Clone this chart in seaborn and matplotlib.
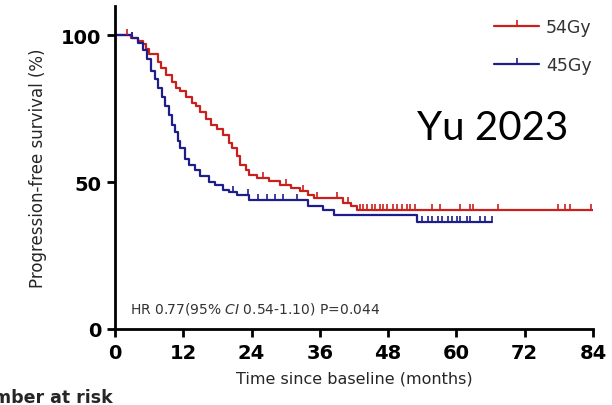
import numpy as np
import pandas as pd
import matplotlib
matplotlib.use("Agg")
import matplotlib.pyplot as plt
from matplotlib.lines import Line2D
import seaborn as sns

# Kaplan-Meier steps (months, % progression-free)
t_54 = [0, 2.8, 4.0, 5.0, 5.5, 6.0, 7.5, 8.0, 9.0, 10.0, 10.8, 11.5, 12.5, 13.5, 14.3,
        15.0, 16.0, 16.8, 18.0, 19.0, 20.0, 20.5, 21.5, 22.0, 23.0, 23.5, 25.0, 27.0,
        29.0, 31.0, 32.5, 34.0, 35.0, 40.0, 41.5, 42.5, 84.0]
s_54 = [100, 99, 98, 97, 95.5, 93.5, 91, 89, 86.5, 84, 82, 81, 79, 77, 76,
        74, 71.5, 69.5, 68, 66, 63.5, 61.6, 59, 56, 54, 52.4, 51.4, 50.3,
        49, 48, 47, 45.5, 44.5, 43, 42, 40.4, 40.4]
cens_54 = [2.1, 3.0, 26.0, 30.0, 33.0, 35.5, 39.0, 41.0, 43.1, 43.6, 44.3, 45.2, 45.7,
           46.6, 47.1, 47.8, 48.9, 49.6, 50.4, 51.3, 51.9, 52.7, 55.7, 57.1, 60.6,
           62.3, 62.9, 67.3, 77.9, 79.1, 80.0, 83.6]

t_45 = [0, 3.0, 4.0, 5.0, 5.7, 6.3, 7.0, 7.5, 8.3, 8.8, 9.5, 10.0, 10.5, 11.0, 11.5,
        12.3, 13.0, 14.0, 15.0, 16.5, 17.5, 19.0, 20.0, 21.5, 23.5, 34.0, 36.5, 38.5,
        53.0, 66.3]
s_45 = [100, 99, 97.5, 95, 92, 88, 85, 82, 79, 76, 73, 69.5, 67, 64, 61.6,
        58, 56, 54, 52, 50, 49, 47.5, 46.5, 45.5, 43.8, 42, 40.4, 38.7,
        36.3, 36.3]
cens_45 = [3.0, 20.7, 23.4, 25.1, 26.7, 28.1, 29.5, 32.0, 54.0, 55.0, 55.7, 56.8,
           57.5, 58.5, 59.3, 60.1, 60.6, 61.9, 62.4, 64.1, 65.0, 66.2]

groups = ["54Gy", "45Gy"]
colors = {"54Gy": "#c91f1d", "45Gy": "#1d1d8c"}

x_ticks = [0, 12, 24, 36, 48, 60, 72, 84]
y_ticks = [0, 50, 100]

df = pd.concat([
    pd.DataFrame({"time": t_54, "surv": s_54, "arm": "54Gy"}),
    pd.DataFrame({"time": t_45, "surv": s_45, "arm": "45Gy"}),
])


def surv_at(times, survs, when):
    idx = np.searchsorted(times, when, side="right") - 1
    return np.asarray(survs)[idx]


sns.set_style("ticks")
plt.rcParams["font.family"] = ["DejaVu Sans"]

fig = plt.figure(figsize=(6.12, 4.06), dpi=100)
ax = fig.add_axes([115 / 612, 1 - 330 / 406, 478 / 612, 323 / 406])

sns.lineplot(data=df, x="time", y="surv", hue="arm", palette=colors,
             drawstyle="steps-post", estimator=None, linewidth=1.6,
             legend=False, ax=ax)

# censored observations as upward ticks
for arm, tt, ss, cc in [("54Gy", t_54, s_54, cens_54), ("45Gy", t_45, s_45, cens_45)]:
    ax.plot(cc, surv_at(tt, ss, cc), linestyle="none", marker=2,
            markersize=4, markeredgewidth=1.2, color=colors[arm])

ax.set_xlim(0, 84)
ax.set_ylim(0, 110)
ax.set_xticks(x_ticks)
ax.set_yticks(y_ticks)
ax.tick_params(axis="both", direction="out", length=6, width=2, labelsize=14,
               colors="black", pad=4)
for lab in ax.get_xticklabels() + ax.get_yticklabels():
    lab.set_fontweight("semibold")
sns.despine(ax=ax)
for sp in ["left", "bottom"]:
    ax.spines[sp].set_linewidth(2)
    ax.spines[sp].set_color("black")

ax.set_xlabel("Time since baseline (months)", fontsize=11.5, labelpad=6)
ax.set_ylabel("Progression-free survival (%)", fontsize=12, labelpad=10)

ax.text(2.6, 7, "HR 0.77(95% $CI$ 0.54-1.10) P=0.044", fontsize=10,
        color="#333333", va="center", ha="left")

handles = [Line2D([], [], color=colors[g], linewidth=1.6, marker=2,
                  markersize=4, markeredgewidth=1.2) for g in groups]
ax.legend(handles, groups, loc="upper right", bbox_to_anchor=(1.03, 1.01),
          frameon=False, fontsize=12.5, handlelength=2.6, handletextpad=0.4,
          labelspacing=1.15, labelcolor="#333333")

fig.text(568 / 612, 1 - 128 / 406, "Yu 2023", fontsize=29, ha="right",
         va="center", family="Lato", color="black")
fig.text(113 / 612, 1 - 398 / 406, "Number at risk", fontsize=12.5, ha="right",
         va="center", fontweight="semibold")

fig.savefig("out.png", dpi=100)
